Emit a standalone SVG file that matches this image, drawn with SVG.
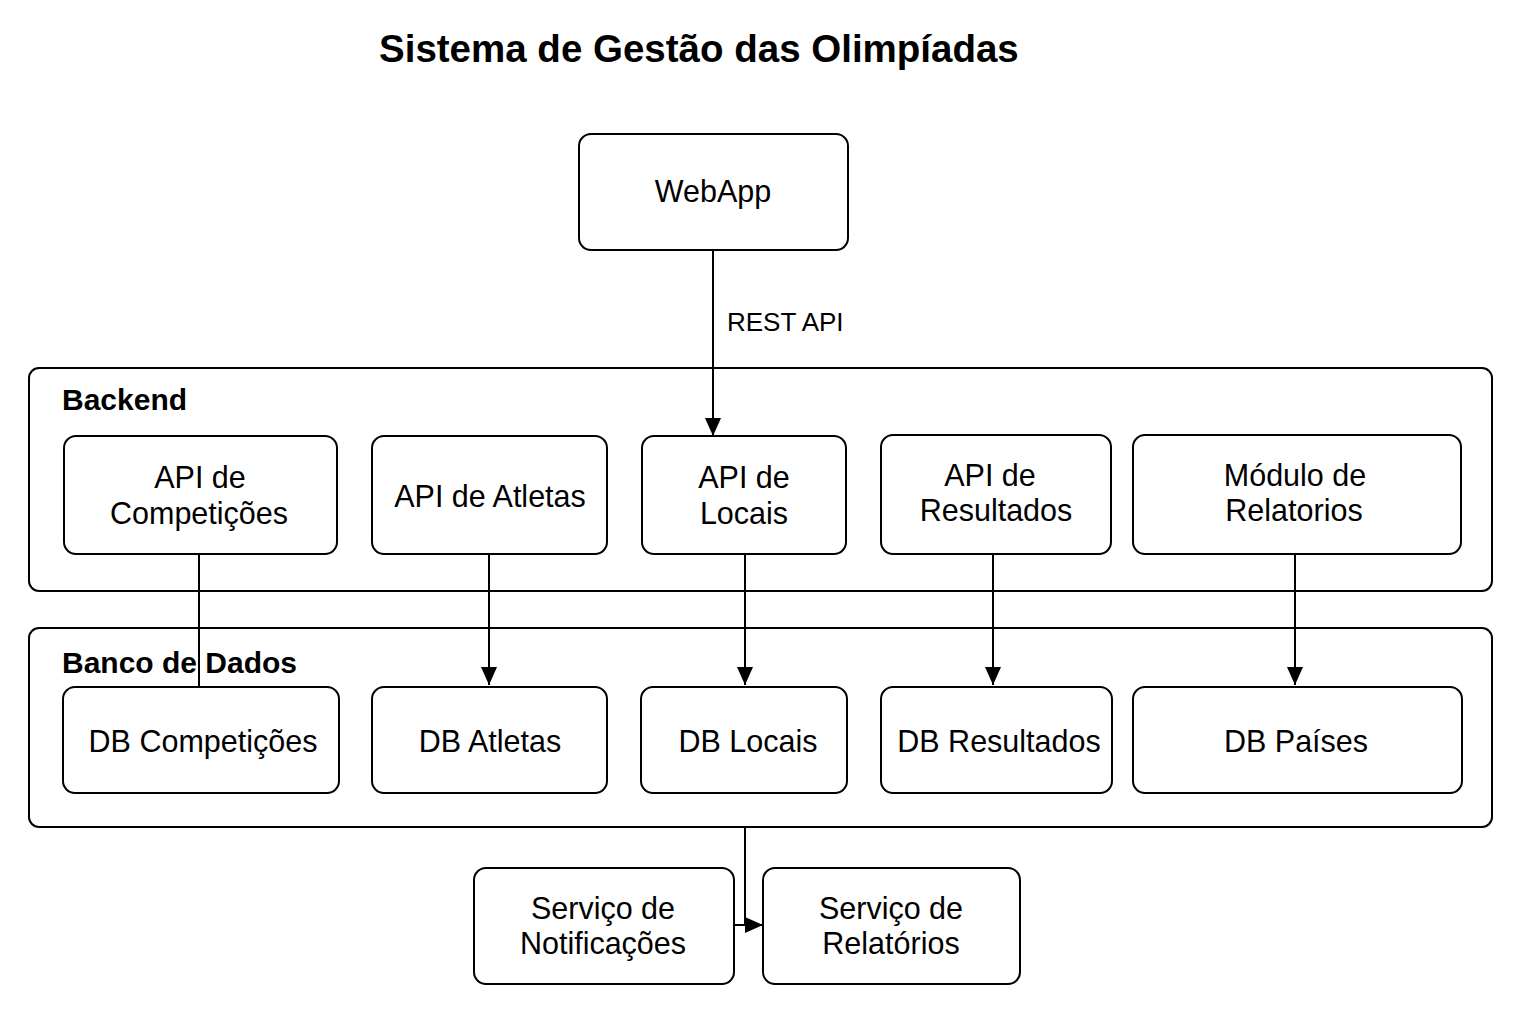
<svg xmlns="http://www.w3.org/2000/svg" width="1536" height="1024" viewBox="0 0 1536 1024">
<defs>
<marker id="arr" markerUnits="userSpaceOnUse" markerWidth="20" markerHeight="16" refX="18" refY="8" orient="auto">
<path d="M0,0 L18,8 L0,16 Z" fill="#000"/>
</marker>
<style>
.box{fill:#fff;stroke:#000;stroke-width:2}
.cont{fill:none;stroke:#000;stroke-width:2}
.t{font-family:"Liberation Sans",Arial,sans-serif;font-size:30.5px;fill:#000;text-anchor:middle}
.h{font-family:"Liberation Sans",Arial,sans-serif;font-size:30px;font-weight:bold;fill:#000}
.c{fill:none;stroke:#000;stroke-width:2}
</style>
</defs>
<rect width="1536" height="1024" fill="#fff"/>
<text x="379" y="62" font-family="Liberation Sans, Arial, sans-serif" font-size="38.5" font-weight="bold">Sistema de Gestão das Olimpíadas</text>

<g id="backend">
<rect class="cont" x="29" y="368" width="1463" height="223" rx="10"/>
<text class="h" x="62" y="410">Backend</text>
</g>
<g id="banco">
<rect class="cont" x="29" y="628" width="1463" height="199" rx="10"/>
<text class="h" x="62" y="673">Banco de Dados</text>
</g>

<g id="webapp"><rect class="box" x="579" y="134" width="269" height="116" rx="12"/><text class="t" x="713" y="202">WebApp</text></g>

<g id="api-comp"><rect class="box" x="64" y="436" width="273" height="118" rx="12"/><text class="t" x="200" y="488">API de</text><text class="t" x="199" y="524">Competições</text></g>
<g id="api-atl"><rect class="box" x="372" y="436" width="235" height="118" rx="12"/><text class="t" x="490" y="507">API de Atletas</text></g>
<g id="api-loc"><rect class="box" x="642" y="436" width="204" height="118" rx="12"/><text class="t" x="744" y="488">API de</text><text class="t" x="744" y="524">Locais</text></g>
<g id="api-res"><rect class="box" x="881" y="435" width="230" height="119" rx="12"/><text class="t" x="990" y="486">API de</text><text class="t" x="996" y="521">Resultados</text></g>
<g id="mod-rel"><rect class="box" x="1133" y="435" width="328" height="119" rx="12"/><text class="t" x="1295" y="486">Módulo de</text><text class="t" x="1294" y="521">Relatorios</text></g>

<g id="db-comp"><rect class="box" x="63" y="687" width="276" height="106" rx="12"/><text class="t" x="203" y="752">DB Competições</text></g>
<g id="db-atl"><rect class="box" x="372" y="687" width="235" height="106" rx="12"/><text class="t" x="490" y="752">DB Atletas</text></g>
<g id="db-loc"><rect class="box" x="641" y="687" width="206" height="106" rx="12"/><text class="t" x="748" y="752">DB Locais</text></g>
<g id="db-res"><rect class="box" x="881" y="687" width="231" height="106" rx="12"/><text class="t" x="999" y="752">DB Resultados</text></g>
<g id="db-pai"><rect class="box" x="1133" y="687" width="329" height="106" rx="12"/><text class="t" x="1296" y="752">DB Países</text></g>

<g id="serv-not"><rect class="box" x="474" y="868" width="260" height="116" rx="12"/><text class="t" x="603" y="919">Serviço de</text><text class="t" x="603" y="954">Notificações</text></g>
<g id="serv-rel"><rect class="box" x="763" y="868" width="257" height="116" rx="12"/><text class="t" x="891" y="919">Serviço de</text><text class="t" x="891" y="954">Relatórios</text></g>

<g id="connectors">
<line class="c" x1="713" y1="250" x2="713" y2="436" marker-end="url(#arr)"/>
<text x="727" y="331" font-family="Liberation Sans, Arial, sans-serif" font-size="26">REST API</text>
<line class="c" x1="199" y1="554" x2="199" y2="687"/>
<line class="c" x1="489" y1="554" x2="489" y2="685" marker-end="url(#arr)"/>
<line class="c" x1="745" y1="554" x2="745" y2="685" marker-end="url(#arr)"/>
<line class="c" x1="993" y1="554" x2="993" y2="685" marker-end="url(#arr)"/>
<line class="c" x1="1295" y1="554" x2="1295" y2="685" marker-end="url(#arr)"/>
<line class="c" x1="745" y1="827" x2="745" y2="925"/>
<line class="c" x1="734" y1="925" x2="763" y2="925" marker-end="url(#arr)"/>
</g>
</svg>
